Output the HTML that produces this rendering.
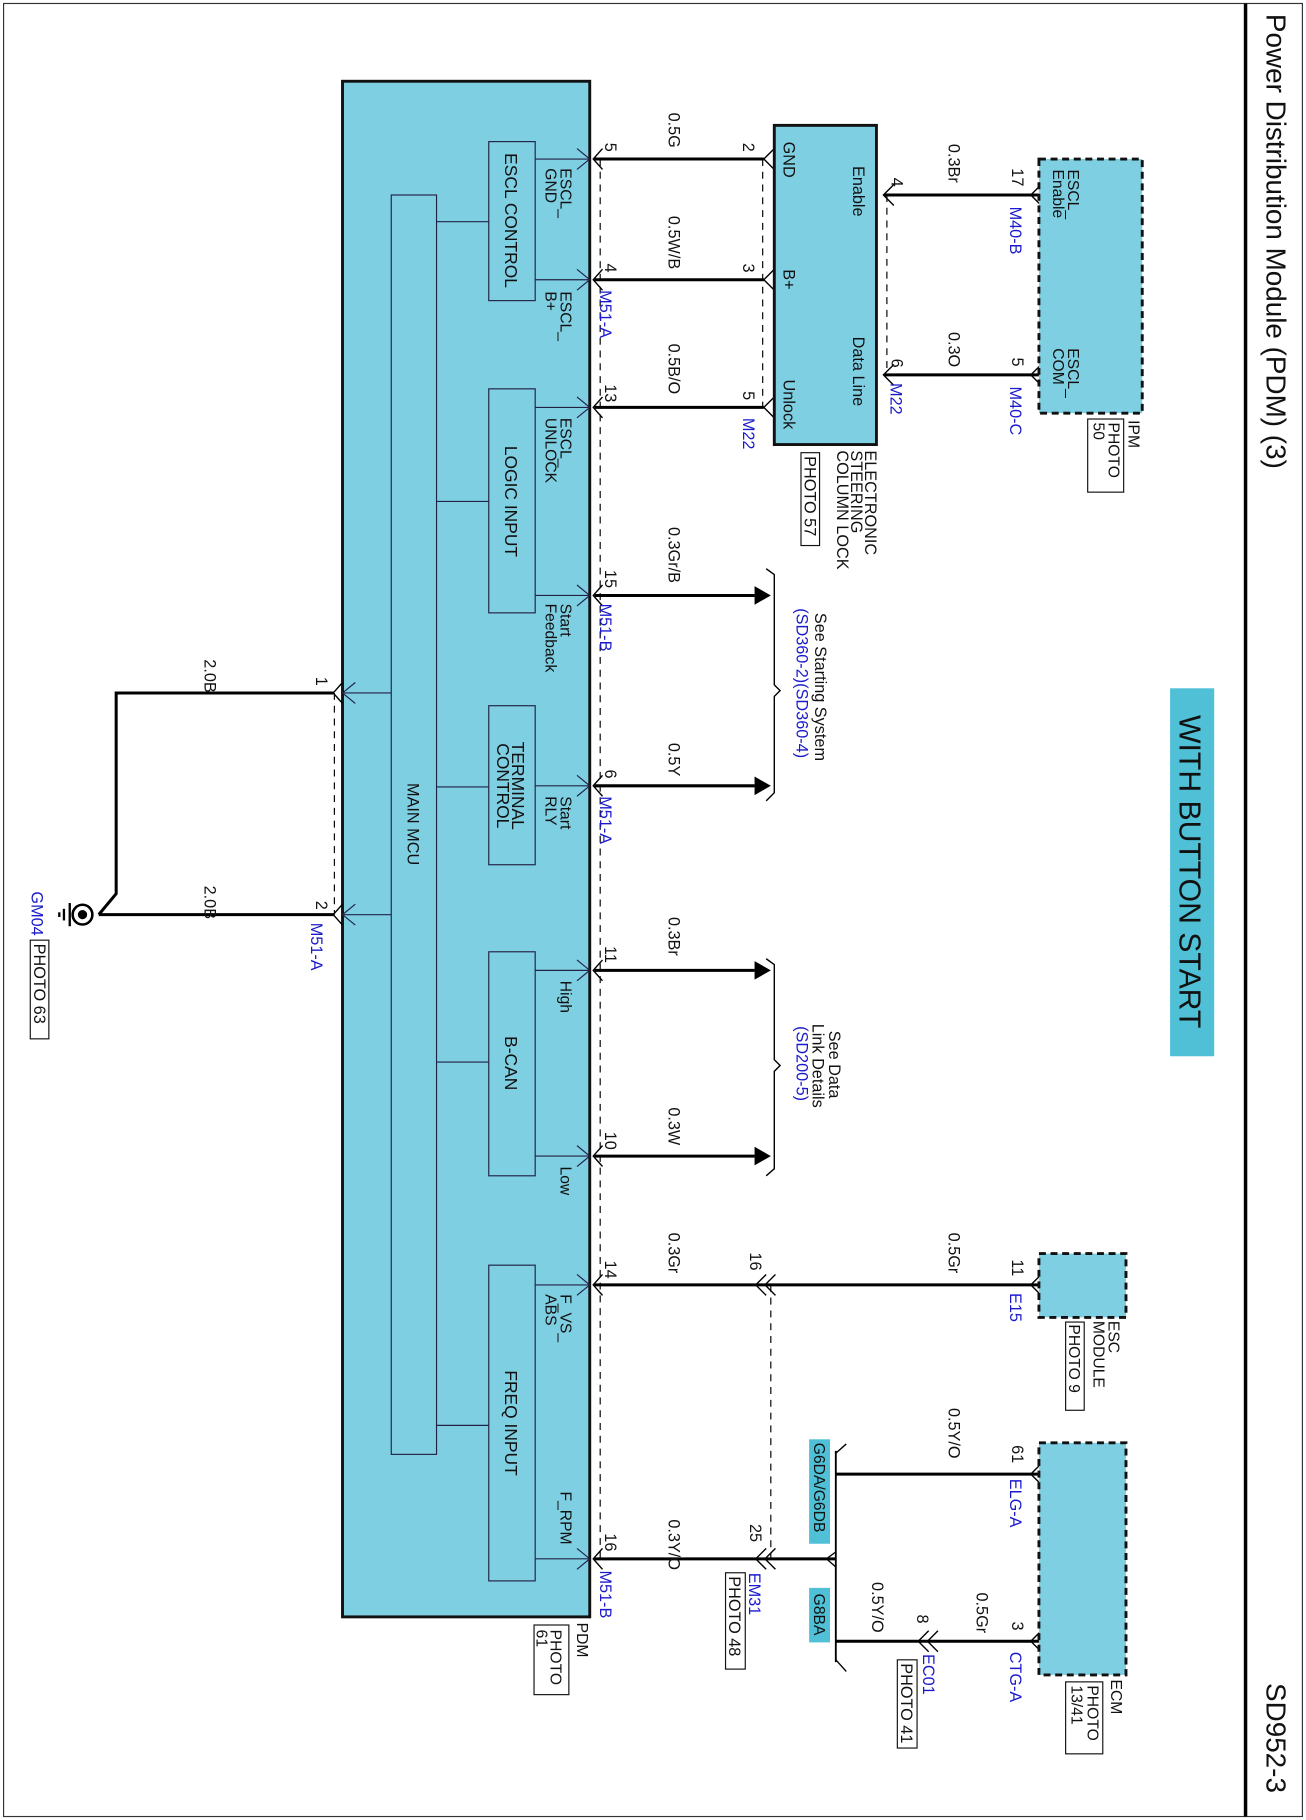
<!DOCTYPE html>
<html><head><meta charset="utf-8"><style>
html,body{margin:0;padding:0;background:#fff}
svg{display:block}
text{font-family:"Liberation Sans",Arial,sans-serif;fill:#111}
.b{fill:#1a1acc}
</style></head><body>
<svg width="1306" height="1820" viewBox="0 0 1125 1568" xmlns="http://www.w3.org/2000/svg">
<rect x="3" y="3" width="1119" height="1562" fill="#fff" stroke="#333" stroke-width="1"/>
<line x1="1073" y1="3" x2="1073" y2="1565" stroke="#000" stroke-width="3"/>
<text transform="translate(1091,12) rotate(90)" font-size="24">Power Distribution Module (PDM) (3)</text>
<text transform="translate(1091,1450) rotate(90)" font-size="24">SD952-3</text>

<rect x="1008" y="593" width="38" height="317" fill="#4fc0d6"/>
<text transform="translate(1016,751) rotate(90)" font-size="26" text-anchor="middle">WITH BUTTON START</text>

<rect x="295" y="70" width="213" height="1323" fill="#7fcfe3" stroke="#111" stroke-width="2.5"/>
<rect x="337" y="168" width="39" height="1085" fill="#7fcfe3" stroke="#224" stroke-width="1"/>
<text transform="translate(351,710) rotate(90)" font-size="14" text-anchor="middle">MAIN MCU</text>
<g fill="#7fcfe3" stroke="#224" stroke-width="1">
<rect x="421" y="122" width="40" height="137"/>
<rect x="421" y="335" width="40" height="193"/>
<rect x="421" y="608" width="40" height="137"/>
<rect x="421" y="820" width="40" height="193"/>
<rect x="421" y="1090" width="40" height="272"/>
</g>
<g stroke="#224" stroke-width="1">
<line x1="376" y1="191" x2="421" y2="191"/>
<line x1="376" y1="432" x2="421" y2="432"/>
<line x1="376" y1="678" x2="421" y2="678"/>
<line x1="376" y1="915" x2="421" y2="915"/>
<line x1="376" y1="1228" x2="421" y2="1228"/>
<line x1="295" y1="597" x2="337" y2="597"/>
<line x1="295" y1="788" x2="337" y2="788"/>
</g>
<g font-size="15">
<text transform="translate(435,190) rotate(90)" text-anchor="middle">ESCL CONTROL</text>
<text transform="translate(435,432) rotate(90)" text-anchor="middle">LOGIC INPUT</text>
<text transform="translate(441,677) rotate(90)" text-anchor="middle">TERMINAL</text>
<text transform="translate(428,677) rotate(90)" text-anchor="middle">CONTROL</text>
<text transform="translate(435,916) rotate(90)" text-anchor="middle">B-CAN</text>
<text transform="translate(435,1226) rotate(90)" text-anchor="middle">FREQ INPUT</text>
</g>
<g stroke="#224" stroke-width="1" fill="none">
<path d="M461,137H508M497,128L508,137L497,146"/>
<path d="M461,241H508M497,232L508,241L497,250"/>
<path d="M461,351H508M497,342L508,351L497,360"/>
<path d="M461,513H508M497,504L508,513L497,522"/>
<path d="M461,677H508M497,668L508,677L497,686"/>
<path d="M461,836H508M497,827L508,836L497,845"/>
<path d="M461,996H508M497,987L508,996L497,1005"/>
<path d="M461,1107H508M497,1098L508,1107L497,1116"/>
<path d="M461,1343H508M497,1334L508,1343L497,1352"/>
<path d="M306,588L295,597L306,606M306,779L295,788L306,797"/>
</g>
<g font-size="13.5">
<text transform="translate(483,145) rotate(90)">ESCL_</text>
<text transform="translate(470,145) rotate(90)">GND</text>
<text transform="translate(483,251) rotate(90)">ESCL_</text>
<text transform="translate(470,251) rotate(90)">B+</text>
<text transform="translate(483,360) rotate(90)">ESCL_</text>
<text transform="translate(470,360) rotate(90)">UNLOCK</text>
<text transform="translate(483,520) rotate(90)">Start</text>
<text transform="translate(470,520) rotate(90)">Feedback</text>
<text transform="translate(483,686) rotate(90)">Start</text>
<text transform="translate(470,686) rotate(90)">RLY</text>
<text transform="translate(483,845) rotate(90)">High</text>
<text transform="translate(483,1005) rotate(90)">Low</text>
<text transform="translate(483,1115) rotate(90)">F_VS_</text>
<text transform="translate(470,1115) rotate(90)">ABS</text>
<text transform="translate(483,1285) rotate(90)">F_RPM</text>
</g>
<text transform="translate(497,1398) rotate(90)" font-size="13.5">PDM</text>
<rect x="460" y="1400" width="30" height="60" fill="none" stroke="#111"/>
<text transform="translate(474,1404) rotate(90)" font-size="13.5">PHOTO</text>
<text transform="translate(462,1404) rotate(90)" font-size="13.5">61</text>

<g stroke="#000" stroke-width="2.6" fill="none">
<line x1="512" y1="137" x2="658" y2="137"/>
<line x1="512" y1="241" x2="658" y2="241"/>
<line x1="512" y1="351" x2="658" y2="351"/>
<line x1="512" y1="513" x2="650" y2="513"/>
<line x1="512" y1="677" x2="650" y2="677"/>
<line x1="512" y1="836" x2="650" y2="836"/>
<line x1="512" y1="996" x2="650" y2="996"/>
<line x1="512" y1="1107" x2="895" y2="1107"/>
<line x1="512" y1="1343" x2="720" y2="1343"/>
<line x1="762" y1="168" x2="895" y2="168"/>
<line x1="762" y1="323" x2="895" y2="323"/>
<line x1="720" y1="1270" x2="895" y2="1270"/>
<line x1="720" y1="1414" x2="895" y2="1414"/>
<path d="M288,597H100V770L85,788"/>
<line x1="85" y1="788" x2="288" y2="788"/>
</g>
<line x1="720" y1="1250" x2="720" y2="1432" stroke="#000" stroke-width="1.6"/>
<g stroke="#000" stroke-width="1.2" fill="none">
<path d="M720,1252L729,1244M720,1430L729,1440M720,1337L712,1343L720,1350"/>
</g>
<g fill="#000">
<path d="M650,505L664,513L650,521Z"/><path d="M650,669L664,677L650,685Z"/>
<path d="M650,828L664,836L650,844Z"/><path d="M650,988L664,996L650,1004Z"/>
</g>
<g stroke="#000" stroke-width="1.2" fill="none">
<path d="M660,490L667,495V590L672,595L667,600V683L660,690"/>
<path d="M660,826L667,831V913L672,918L667,923V1007L660,1013"/>
<path d="M519,128L511,137L519,146M519,232L511,241L519,250M519,342L511,351L519,360M519,504L511,513L519,522M519,668L511,677L519,686M519,827L511,836L519,845M519,987L511,996L519,1005M519,1098L511,1107L519,1116M519,1334L511,1343L519,1352"/>
<path d="M667,128L658,137L667,146M667,232L658,241L667,250M667,342L658,351L667,360"/>
<path d="M770,159L761,168L770,177M770,314L761,323L770,332"/>
<path d="M897,159L888,168L897,177M897,314L888,323L897,332"/>
<path d="M897,1098L888,1107L897,1116M897,1261L888,1270L897,1279M897,1405L888,1414L897,1423"/>
<path d="M660,1098L651,1107L660,1116M668,1098L659,1107L668,1116"/>
<path d="M660,1334L651,1343L660,1352M668,1334L659,1343L668,1352"/>
<path d="M800,1405L791,1414L800,1423M808,1405L799,1414L808,1423"/>
<path d="M295,588L287,597L295,606M295,779L287,788L295,797"/>
</g>
<g stroke="#000" stroke-width="1" stroke-dasharray="6,5" fill="none">
<line x1="517" y1="137" x2="517" y2="1343"/>
<line x1="657" y1="137" x2="657" y2="351"/>
<line x1="764" y1="168" x2="764" y2="323"/>
<line x1="664" y1="1107" x2="664" y2="1343"/>
<line x1="288" y1="597" x2="288" y2="788"/>
</g>
<circle cx="71" cy="788" r="8.5" fill="#fff" stroke="#000" stroke-width="2.2"/>
<circle cx="71" cy="788" r="4" fill="#000"/>
<g stroke="#000" stroke-width="2"><line x1="60" y1="778" x2="60" y2="798"/><line x1="55" y1="783" x2="55" y2="793"/><line x1="51" y1="786" x2="51" y2="790"/></g>
<text class="b" transform="translate(27,768) rotate(90)" font-size="14">GM04</text>
<rect x="26" y="810" width="16" height="85" fill="none" stroke="#111"/>
<text transform="translate(29,813) rotate(90)" font-size="14">PHOTO 63</text>
<text transform="translate(272,583) rotate(90)" font-size="14">1</text>
<text transform="translate(272,776) rotate(90)" font-size="14">2</text>
<text class="b" transform="translate(268,795) rotate(90)" font-size="14">M51-A</text>
<text transform="translate(176,568) rotate(90)" font-size="14">2.0B</text>
<text transform="translate(176,763) rotate(90)" font-size="14">2.0B</text>

<g font-size="14">
<text transform="translate(521,123) rotate(90)">5</text>
<text transform="translate(521,227) rotate(90)">4</text>
<text transform="translate(521,331) rotate(90)">13</text>
<text transform="translate(521,491) rotate(90)">15</text>
<text transform="translate(521,663) rotate(90)">6</text>
<text transform="translate(521,815) rotate(90)">11</text>
<text transform="translate(521,975) rotate(90)">10</text>
<text transform="translate(521,1086) rotate(90)">14</text>
<text transform="translate(521,1321) rotate(90)">16</text>
<text transform="translate(640,123) rotate(90)">2</text>
<text transform="translate(640,227) rotate(90)">3</text>
<text transform="translate(640,337) rotate(90)">5</text>
<text transform="translate(768,153) rotate(90)">4</text>
<text transform="translate(768,309) rotate(90)">6</text>
<text transform="translate(872,145) rotate(90)">17</text>
<text transform="translate(872,308) rotate(90)">5</text>
<text transform="translate(646,1079) rotate(90)">16</text>
<text transform="translate(646,1313) rotate(90)">25</text>
<text transform="translate(872,1085) rotate(90)">11</text>
<text transform="translate(872,1245) rotate(90)">61</text>
<text transform="translate(872,1397) rotate(90)">3</text>
<text transform="translate(790,1391) rotate(90)">8</text>
</g>
<g font-size="14">
<text class="b" transform="translate(517,250) rotate(90)">M51-A</text>
<text class="b" transform="translate(517,520) rotate(90)">M51-B</text>
<text class="b" transform="translate(517,686) rotate(90)">M51-A</text>
<text class="b" transform="translate(517,1353) rotate(90)">M51-B</text>
<text class="b" transform="translate(640,360) rotate(90)">M22</text>
<text class="b" transform="translate(767,330) rotate(90)">M22</text>
<text class="b" transform="translate(870,178) rotate(90)">M40-B</text>
<text class="b" transform="translate(870,333) rotate(90)">M40-C</text>
<text class="b" transform="translate(870,1114) rotate(90)">E15</text>
<text class="b" transform="translate(870,1274) rotate(90)">ELG-A</text>
<text class="b" transform="translate(870,1423) rotate(90)">CTG-A</text>
<text class="b" transform="translate(645,1355) rotate(90)">EM31</text>
<text class="b" transform="translate(795,1425) rotate(90)">EC01</text>
</g>
<g font-size="14">
<text transform="translate(576,97) rotate(90)">0.5G</text>
<text transform="translate(576,186) rotate(90)">0.5W/B</text>
<text transform="translate(576,296) rotate(90)">0.5B/O</text>
<text transform="translate(576,454) rotate(90)">0.3Gr/B</text>
<text transform="translate(576,640) rotate(90)">0.5Y</text>
<text transform="translate(576,790) rotate(90)">0.3Br</text>
<text transform="translate(576,954) rotate(90)">0.3W</text>
<text transform="translate(576,1062) rotate(90)">0.3Gr</text>
<text transform="translate(576,1309) rotate(90)">0.3Y/O</text>
<text transform="translate(817,124) rotate(90)">0.3Br</text>
<text transform="translate(817,286) rotate(90)">0.3O</text>
<text transform="translate(817,1062) rotate(90)">0.5Gr</text>
<text transform="translate(817,1213) rotate(90)">0.5Y/O</text>
<text transform="translate(841,1372) rotate(90)">0.5Gr</text>
<text transform="translate(751,1363) rotate(90)">0.5Y/O</text>
</g>
<rect x="667" y="108" width="88" height="275" fill="#7fcfe3" stroke="#111" stroke-width="2.5"/>
<g font-size="14">
<text transform="translate(675,122) rotate(90)">GND</text>
<text transform="translate(675,232) rotate(90)">B+</text>
<text transform="translate(675,327) rotate(90)">Unlock</text>
<text transform="translate(735,143) rotate(90)">Enable</text>
<text transform="translate(735,290) rotate(90)">Data Line</text>
<text transform="translate(745,388) rotate(90)">ELECTRONIC</text>
<text transform="translate(733,388) rotate(90)">STEERING</text>
<text transform="translate(721,388) rotate(90)">COLUMN LOCK</text>
</g>
<rect x="690" y="390" width="16" height="80" fill="none" stroke="#111"/>
<text transform="translate(693,393) rotate(90)" font-size="14">PHOTO 57</text>
<rect x="895" y="137" width="89" height="219" fill="#7fcfe3" stroke="#111" stroke-width="2.5" stroke-dasharray="6,4"/>
<g font-size="13.5">
<text transform="translate(920,146) rotate(90)">ESCL_</text>
<text transform="translate(907,146) rotate(90)">Enable</text>
<text transform="translate(920,300) rotate(90)">ESCL_</text>
<text transform="translate(907,300) rotate(90)">COM</text>
<text transform="translate(972,362) rotate(90)">IPM</text>
<text transform="translate(955,364) rotate(90)">PHOTO</text>
<text transform="translate(942,364) rotate(90)">50</text>
</g>
<rect x="937" y="361" width="31" height="63" fill="none" stroke="#111"/>
<rect x="895" y="1080" width="75" height="55" fill="#7fcfe3" stroke="#111" stroke-width="2.5" stroke-dasharray="6,4"/>
<g font-size="13.5">
<text transform="translate(955,1138) rotate(90)">ESC</text>
<text transform="translate(942,1138) rotate(90)">MODULE</text>
<text transform="translate(921,1141) rotate(90)">PHOTO 9</text>
</g>
<rect x="918" y="1139" width="16" height="76" fill="none" stroke="#111"/>
<rect x="895" y="1243" width="75" height="200" fill="#7fcfe3" stroke="#111" stroke-width="2.5" stroke-dasharray="6,4"/>
<g font-size="13.5">
<text transform="translate(957,1447) rotate(90)">ECM</text>
<text transform="translate(937,1452) rotate(90)">PHOTO</text>
<text transform="translate(923,1452) rotate(90)">13/41</text>
</g>
<rect x="918" y="1449" width="32" height="62" fill="none" stroke="#111"/>
<rect x="697" y="1240" width="18" height="90" fill="#4fc0d6"/>
<text transform="translate(701,1243) rotate(90)" font-size="13.5">G6DA/G6DB</text>
<rect x="697" y="1368" width="18" height="47" fill="#4fc0d6"/>
<text transform="translate(701,1373) rotate(90)" font-size="13.5">G8BA</text>
<rect x="625" y="1355" width="17" height="83" fill="none" stroke="#111"/>
<text transform="translate(628,1358) rotate(90)" font-size="14">PHOTO 48</text>
<rect x="773" y="1430" width="17" height="76" fill="none" stroke="#111"/>
<text transform="translate(776,1433) rotate(90)" font-size="14">PHOTO 41</text>
<text transform="translate(702,528) rotate(90)" font-size="14">See Starting System</text>
<text class="b" transform="translate(686,524) rotate(90)" font-size="14">(SD360-2)(SD360-4)</text>
<text transform="translate(714,888) rotate(90)" font-size="14">See Data</text>
<text transform="translate(700,882) rotate(90)" font-size="14">Link Details</text>
<text class="b" transform="translate(686,884) rotate(90)" font-size="14">(SD200-5)</text>
</svg>
</body></html>
